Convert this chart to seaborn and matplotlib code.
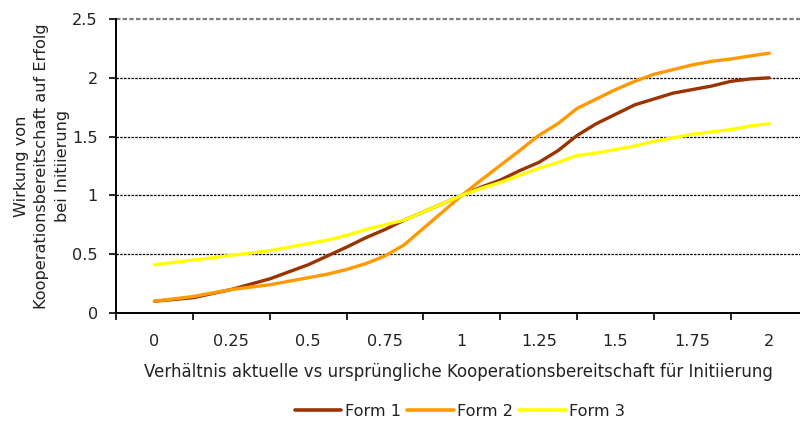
import matplotlib
matplotlib.use("Agg")
import matplotlib.pyplot as plt
from matplotlib.lines import Line2D
import pandas as pd
import seaborn as sns

# Ratio of current vs. original cooperation willingness (x) and effect on success (y)
ratio = [0.0, 0.0625, 0.125, 0.1875, 0.25, 0.3125, 0.375, 0.4375, 0.5,
         0.5625, 0.625, 0.6875, 0.75, 0.8125, 0.875, 0.9375, 1.0,
         1.0625, 1.125, 1.1875, 1.25, 1.3125, 1.375, 1.4375, 1.5,
         1.5625, 1.625, 1.6875, 1.75, 1.8125, 1.875, 1.9375, 2.0]

form1 = [0.10, 0.115, 0.13, 0.165, 0.20, 0.245, 0.29, 0.35, 0.41,
         0.485, 0.56, 0.64, 0.71, 0.79, 0.86, 0.93, 1.00,
         1.07, 1.13, 1.21, 1.28, 1.38, 1.51, 1.61, 1.69,
         1.77, 1.82, 1.87, 1.90, 1.93, 1.97, 1.99, 2.00]

form2 = [0.10, 0.12, 0.14, 0.17, 0.20, 0.22, 0.24, 0.27, 0.30,
         0.33, 0.37, 0.42, 0.485, 0.58, 0.72, 0.86, 1.00,
         1.13, 1.255, 1.38, 1.51, 1.61, 1.74, 1.82, 1.90,
         1.97, 2.03, 2.07, 2.11, 2.14, 2.16, 2.185, 2.21]

form3 = [0.41, 0.43, 0.45, 0.47, 0.49, 0.51, 0.53, 0.56, 0.59,
         0.62, 0.66, 0.71, 0.75, 0.79, 0.86, 0.93, 1.00,
         1.06, 1.11, 1.17, 1.23, 1.28, 1.34, 1.36, 1.39,
         1.42, 1.46, 1.49, 1.52, 1.54, 1.56, 1.59, 1.61]

series_names = ["Form 1", "Form 2", "Form 3"]
x_tick_labels = ["0", "0.25", "0.5", "0.75", "1", "1.25", "1.5", "1.75", "2"]
y_tick_labels = ["0", "0.5", "1", "1.5", "2", "2.5"]

df = pd.DataFrame({
    "ratio": ratio * 3,
    "effect": form1 + form2 + form3,
    "form": [n for n in series_names for _ in ratio],
})

sns.set_theme(style="white")
plt.rcParams["font.family"] = ["DejaVu Sans"]

fig = plt.figure(figsize=(8.0, 4.24), dpi=100)
ax = fig.add_axes([116 / 800, 1 - 313 / 424, 684 / 800, 294 / 424])

palette = {"Form 1": "#993300", "Form 2": "#FF9900", "Form 3": "#FFFF00"}

# dashed horizontal gridlines
for yv in [0.5, 1.0, 1.5, 2.0]:
    ax.axhline(yv, color="black", lw=0.9, ls=(0, (2, 1)), zorder=0)
ax.axhline(2.5, color="#808080", lw=1.6, ls=(0, (2, 1)), zorder=0, clip_on=False)

sns.lineplot(data=df, x="ratio", y="effect", hue="form", palette=palette,
             linewidth=2.4, ax=ax, legend=False, zorder=3)

ax.set_xlim(-0.125, 2.10)
ax.set_ylim(0, 2.5)

for side in ["top", "right"]:
    ax.spines[side].set_visible(False)
for side in ["left", "bottom"]:
    ax.spines[side].set_color("black")
    ax.spines[side].set_linewidth(1.4)

fs = 11.6
ax.set_yticks([0, 0.5, 1, 1.5, 2, 2.5])
ax.set_yticklabels(y_tick_labels, fontsize=fs, color="#222222")
ax.tick_params(axis="y", direction="out", length=5, width=1.2, color="black", pad=8, left=True)

label_pos = [0.25 * i for i in range(len(x_tick_labels))]
ax.set_xticks(label_pos)
ax.set_xticklabels(x_tick_labels, fontsize=fs, color="#222222")
ax.tick_params(axis="x", which="major", length=0, pad=15)
ax.set_xticks([-0.125 + 0.25 * i for i in range(9)], minor=True)
ax.tick_params(axis="x", which="minor", direction="out", length=5, width=1.2,
               color="black", bottom=True)

ax.set_xlabel("Verhältnis aktuelle vs ursprüngliche Kooperationsbereitschaft für Initiierung",
              fontsize=fs * 1.035, color="#222222", labelpad=10)
ax.set_ylabel("Wirkung von\nKooperationsbereitschaft auf Erfolg\nbei Initiierung",
              fontsize=fs, color="#222222", labelpad=2, linespacing=1.45)

handles = [Line2D([0], [0], color=palette[n], lw=2.6) for n in series_names]
fig.legend(handles, series_names, loc="center", bbox_to_anchor=(460 / 800, 1 - 411 / 424),
           ncol=3, frameon=False, fontsize=fs, handlelength=2.9, handletextpad=0.2,
           columnspacing=0.4, labelcolor="#222222")

fig.savefig("out.png", dpi=100)
